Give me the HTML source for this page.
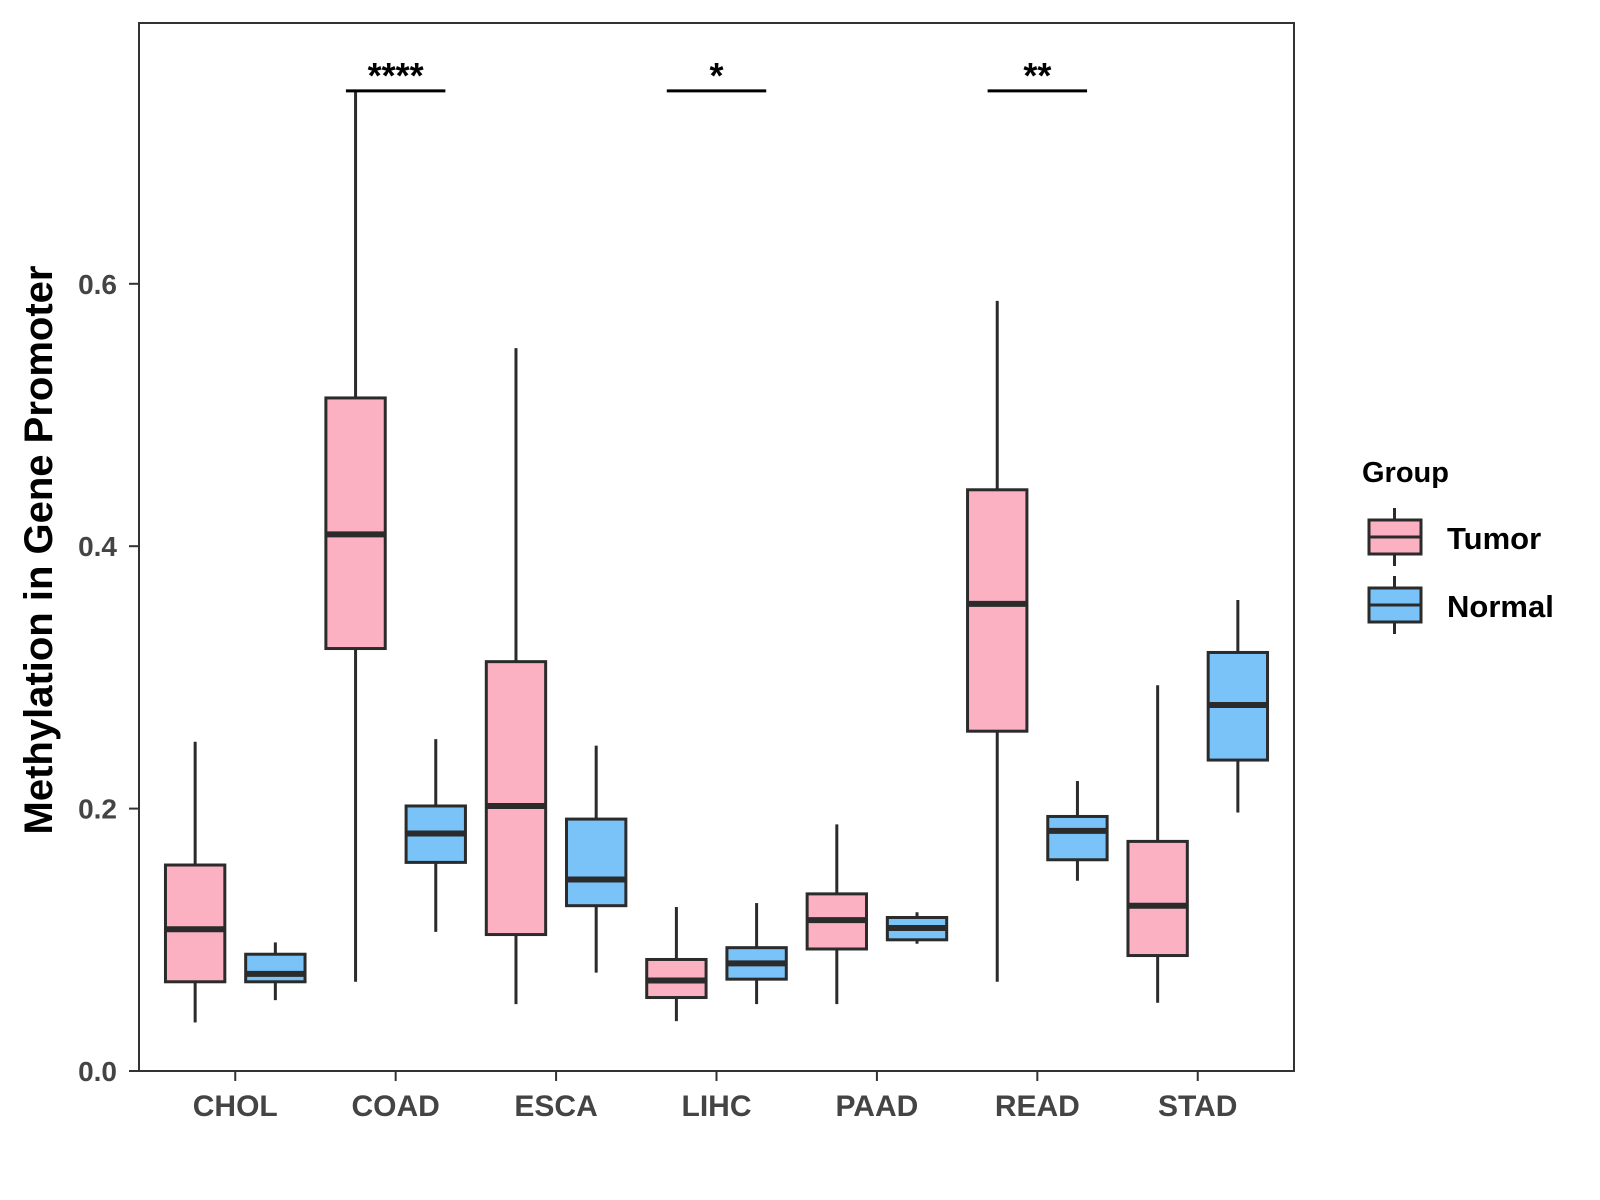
<!DOCTYPE html>
<html><head><meta charset="utf-8"><style>
body{margin:0;background:#fff}
svg{display:block;font-family:"Liberation Sans",Arial,sans-serif;font-weight:bold}
</style></head><body>
<svg id="chart" width="1600" height="1200" viewBox="0 0 1600 1200">
<rect x="0" y="0" width="1600" height="1200" fill="#fff"/>
<g id="plot"></g>
<rect x="139" y="23" width="1155" height="1048" fill="none" stroke="#333" stroke-width="2"/>
<text transform="translate(52,550) rotate(-90)" text-anchor="middle" font-size="40" fill="#000">Methylation in Gene Promoter</text>
<g>
<text x="1362" y="482" font-size="29" fill="#000">Group</text>
<g>
<line x1="1394.5" y1="508" x2="1394.5" y2="566" stroke="#2b2b2b" stroke-width="3"/>
<rect x="1369" y="520" width="52" height="34" fill="#FBB1C2" stroke="#2b2b2b" stroke-width="3"/>
<line x1="1369" y1="537" x2="1421" y2="537" stroke="#2b2b2b" stroke-width="3"/>
<text x="1447" y="549" font-size="31" fill="#000">Tumor</text>
</g>
<g>
<line x1="1394.5" y1="576" x2="1394.5" y2="634" stroke="#2b2b2b" stroke-width="3"/>
<rect x="1369" y="588" width="52" height="34" fill="#79C3F8" stroke="#2b2b2b" stroke-width="3"/>
<line x1="1369" y1="605" x2="1421" y2="605" stroke="#2b2b2b" stroke-width="3"/>
<text x="1447" y="617" font-size="31" fill="#000">Normal</text>
</g>
</g>
</svg>
<script>
const categories = ["CHOL","COAD","ESCA","LIHC","PAAD","READ","STAD"];
// [min, q1, median, q3, max]
const tumorStats = [
 [0.037,0.068,0.108,0.157,0.251],
 [0.068,0.322,0.409,0.513,0.747],
 [0.051,0.104,0.202,0.312,0.551],
 [0.038,0.056,0.069,0.085,0.125],
 [0.051,0.093,0.115,0.135,0.188],
 [0.068,0.259,0.356,0.443,0.587],
 [0.052,0.088,0.126,0.175,0.294]
];
const normalStats = [
 [0.054,0.068,0.074,0.089,0.098],
 [0.106,0.159,0.181,0.202,0.253],
 [0.075,0.126,0.146,0.192,0.248],
 [0.051,0.070,0.082,0.094,0.128],
 [0.097,0.100,0.109,0.117,0.121],
 [0.145,0.161,0.183,0.194,0.221],
 [0.197,0.237,0.279,0.319,0.359]
];
const yTicks = [0.0,0.2,0.4,0.6];
const yTickLabels = ["0.0","0.2","0.4","0.6"];
const sigCategories = ["COAD","LIHC","READ"];
const sigLabels = ["****","*","**"];
const sigValue = 0.747;

const NS="http://www.w3.org/2000/svg";
const plot=document.getElementById('plot');
const L=139,R=1294,B=1071,pxPer=131.2/0.1;
const band=(R-L)/(categories.length-1+1.2);
function xScale(i){return L+band*(0.6+i);}
function yScale(v){return B-v*pxPer;}
function mk(tag,attrs,parent){const e=document.createElementNS(NS,tag);for(const k in attrs)e.setAttribute(k,attrs[k]);(parent||plot).appendChild(e);return e;}

yTicks.forEach((t,i)=>{
 const y=yScale(t);
 const tk=mk('line',{x1:L-10,x2:L,y1:y,y2:y,stroke:'#333','stroke-width':2});
 
 
 const tx=mk('text',{x:L-22,y:y+10,'text-anchor':'end','font-size':28,fill:'#444'});
 tx.textContent=yTickLabels[i];
 
 
});
categories.forEach((c,i)=>{
 const x=xScale(i);
 const tk=mk('line',{x1:x,x2:x,y1:B,y2:B+10,stroke:'#333','stroke-width':2});
 
 
 const tx=mk('text',{x:x,y:B+45,'text-anchor':'middle','font-size':30,fill:'#444'});
 tx.textContent=c;
 
 
});
function drawBox(s,cx,fill,name){
 const g=mk('g',{});
 
 
 const w=band*0.37;
 mk('line',{x1:cx,x2:cx,y1:yScale(s[4]),y2:yScale(s[3]),stroke:'#2b2b2b','stroke-width':3},g);
 mk('line',{x1:cx,x2:cx,y1:yScale(s[1]),y2:yScale(s[0]),stroke:'#2b2b2b','stroke-width':3},g);
 mk('rect',{x:cx-w/2,y:yScale(s[3]),width:w,height:yScale(s[1])-yScale(s[3]),fill:fill,stroke:'#2b2b2b','stroke-width':3},g);
 mk('line',{x1:cx-w/2,x2:cx+w/2,y1:yScale(s[2]),y2:yScale(s[2]),stroke:'#2b2b2b','stroke-width':6},g);
}
categories.forEach((c,i)=>{
 drawBox(tumorStats[i],xScale(i)-band*0.25,'#FBB1C2','box-tumor-'+c.toLowerCase());
 drawBox(normalStats[i],xScale(i)+band*0.25,'#79C3F8','box-normal-'+c.toLowerCase());
});
sigCategories.forEach((c,j)=>{
 const i=categories.indexOf(c);
 const x=xScale(i),y=yScale(sigValue);
 const ln=mk('line',{x1:x-band*0.31,x2:x+band*0.31,y1:y,y2:y,stroke:'#000','stroke-width':3});
 
 
 const tx=mk('text',{x:x,y:y-3,'text-anchor':'middle','font-size':36,fill:'#000'});
 tx.textContent=sigLabels[j];
 
 
});
</script>
</body></html>
